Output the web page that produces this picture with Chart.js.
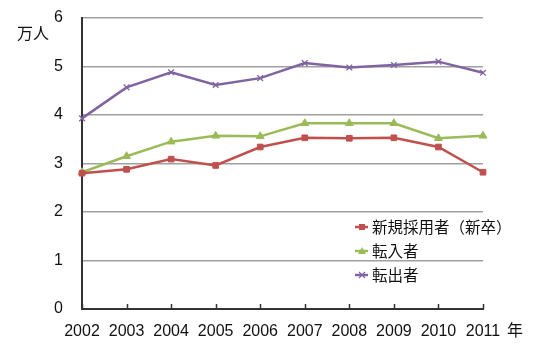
<!DOCTYPE html>
<html>
<head>
<meta charset="utf-8">
<script src="https://cdn.jsdelivr.net/npm/chart.js@4/dist/chart.umd.min.js"></script>
<style>
  html, body { margin: 0; padding: 0; background: #fff; }
  #wrap { width: 535px; height: 350px; }
</style>
</head>
<body>
<div id="wrap"><canvas id="graph" width="535" height="350"></canvas></div>
<script>
// data (万人)
const years = ['2002', '2003', '2004', '2005', '2006', '2007', '2008', '2009', '2010', '2011'];
const newHires = [2.80, 2.88, 3.09, 2.96, 3.34, 3.53, 3.52, 3.53, 3.34, 2.82];
const movedIn = [2.82, 3.15, 3.45, 3.57, 3.56, 3.83, 3.83, 3.83, 3.52, 3.57];
const movedOut = [3.93, 4.57, 4.88, 4.62, 4.76, 5.07, 4.98, 5.03, 5.10, 4.87];
const seriesNames = ['新規採用者（新卒）', '転入者', '転出者'];
const yTicks = [0, 1, 2, 3, 4, 5, 6];

const fontJP = '"Noto Sans CJK JP", "Noto Sans", sans-serif';
const fontNum = '"Liberation Sans", Arial, sans-serif';

// extra text + inside tick marks + legend
const decor = {
  id: 'decor',
  afterDraw(chart) {
    const ctx = chart.ctx;
    const xs = chart.scales.x;
    const ys = chart.scales.y;
    ctx.save();

    // tick marks on x axis pointing up into the plot
    ctx.strokeStyle = '#333';
    ctx.lineWidth = 1.5;
    xs.ticks.forEach((t, i) => {
      const px = Math.round(xs.getPixelForTick(i)) + 0.5;
      ctx.beginPath();
      ctx.moveTo(px, ys.bottom);
      ctx.lineTo(px, ys.bottom - 5);
      ctx.stroke();
    });

    ctx.fillStyle = '#111';
    ctx.font = '16px ' + fontJP;
    ctx.textBaseline = 'middle';
    ctx.textAlign = 'left';
    ctx.fillText('万人', 17, 33);
    ctx.fillText('年', 507, 330);

    // legend
    const rowsY = [227, 251, 275];
    chart.data.datasets.forEach((ds, i) => {
      const y = rowsY[i];
      ctx.strokeStyle = ds.borderColor;
      ctx.lineWidth = 2.5;
      ctx.beginPath();
      ctx.moveTo(355, y);
      ctx.lineTo(368, y);
      ctx.stroke();
      ctx.fillStyle = ds.backgroundColor;
      if (ds.pointStyle === 'rect') {
        ctx.fillRect(359, y - 3, 6, 6);
      } else if (ds.pointStyle === 'triangle') {
        ctx.beginPath();
        ctx.moveTo(362, y - 4);
        ctx.lineTo(366, y + 3);
        ctx.lineTo(358, y + 3);
        ctx.closePath();
        ctx.fill();
      } else {
        ctx.lineWidth = 1.2;
        ctx.beginPath();
        ctx.moveTo(359, y - 3); ctx.lineTo(365, y + 3);
        ctx.moveTo(365, y - 3); ctx.lineTo(359, y + 3);
        ctx.stroke();
      }
      ctx.fillStyle = '#111';
      ctx.font = '15.5px ' + fontJP;
      ctx.fillText(ds.label, 372, y);
    });
    ctx.restore();
  }
};

const data = {
  labels: years,
  datasets: [
    {
      label: seriesNames[0],
      data: newHires,
      borderColor: '#C0504D',
      backgroundColor: '#C0504D',
      pointStyle: 'rect',
      pointRadius: 4,
      pointBorderWidth: 1
    },
    {
      label: seriesNames[1],
      data: movedIn,
      borderColor: '#9BBB59',
      backgroundColor: '#9BBB59',
      pointStyle: 'triangle',
      pointRadius: 4.5,
      pointBorderWidth: 1
    },
    {
      label: seriesNames[2],
      data: movedOut,
      borderColor: '#8064A2',
      backgroundColor: '#8064A2',
      pointStyle: 'crossRot',
      pointRadius: 4,
      pointBorderWidth: 1.3
    }
  ]
};

const config = {
  type: 'line',
  data,
  plugins: [decor],
  options: {
    responsive: false,
    animation: false,
    devicePixelRatio: 1,
    layout: { padding: { top: 18, right: 52, left: 0, bottom: 0 } },
    elements: { line: { borderWidth: 2.5, tension: 0 } },
    plugins: {
      legend: { display: false },
      tooltip: { enabled: false }
    },
    scales: {
      x: {
        offset: false,
        grid: { display: false, drawTicks: false },
        border: { display: true, color: '#333', width: 2 },
        ticks: {
          color: '#111',
          font: { family: fontNum, size: 16 },
          padding: 13,
          maxRotation: 0,
          autoSkip: false
        },
        afterFit(scale) {
          scale.height = 41;
          scale.paddingLeft = 0;
          scale.paddingRight = 0;
        }
      },
      y: {
        min: 0,
        max: 6,
        grid: { color: '#a0a0a0', lineWidth: 1.5, drawTicks: false },
        border: { display: true, color: '#333', width: 2 },
        afterBuildTicks(scale) { scale.ticks = yTicks.map(v => ({ value: v })); },
        ticks: {
          color: '#111',
          font: { family: fontNum, size: 16 },
          padding: 19
        },
        afterFit(scale) {
          scale.width = 82;
          scale.paddingTop = 0;
          scale.paddingBottom = 0;
        }
      }
    }
  }
};

const chart = new Chart(document.getElementById('graph'), config);
</script>
</body>
</html>
